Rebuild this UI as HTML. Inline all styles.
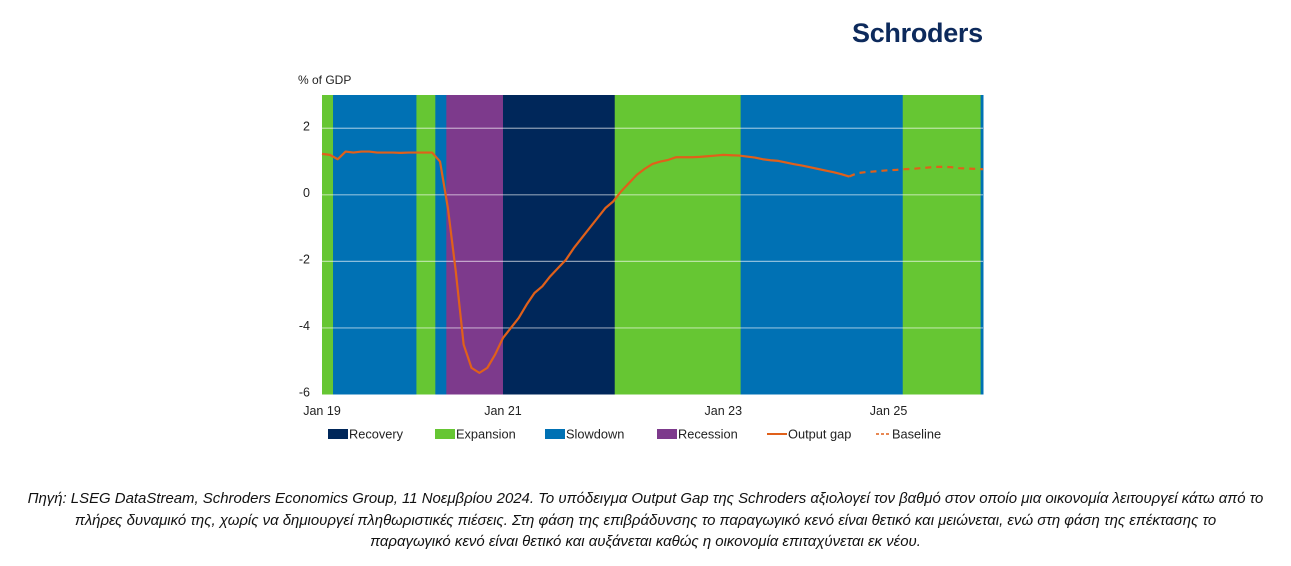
<!DOCTYPE html>
<html><head><meta charset="utf-8">
<style>
body{margin:0;width:1291px;height:566px;background:#fff;font-family:"Liberation Sans",sans-serif;overflow:hidden;position:relative}
.logo{position:absolute;left:852px;top:18px;font-size:27px;font-weight:bold;color:#0d2a5c;letter-spacing:-0.3px}
.cap{position:absolute;left:0;width:1291px;top:488px;text-align:center;font-style:italic;font-size:14.95px;line-height:21.5px;color:#111;white-space:nowrap}
</style></head><body>
<div class="logo">Schroders</div>
<svg id="chart" width="1291" height="470" style="position:absolute;left:0;top:0"></svg>
<div class="cap">Πηγή: LSEG DataStream, Schroders Economics Group, 11 Νοεμβρίου 2024. Το υπόδειγμα Output Gap της Schroders αξιολογεί τον βαθμό στον οποίο μια οικονομία λειτουργεί κάτω από το<br>πλήρες δυναμικό της, χωρίς να δημιουργεί πληθωριστικές πιέσεις. Στη φάση της επιβράδυνσης το παραγωγικό κενό είναι θετικό και μειώνεται, ενώ στη φάση της επέκτασης το<br>παραγωγικό κενό είναι θετικό και αυξάνεται καθώς η οικονομία επιταχύνεται εκ νέου.</div>
<script>
const phaseStarts=[0,1.4,12,14.4,15.8,23,37.2,53.2,73.8,83.7];
const phaseEnds=[1.4,12,14.4,15.8,23,37.2,53.2,73.8,83.7,84];
const phaseTypes=["Expansion","Slowdown","Expansion","Slowdown","Recession","Recovery","Expansion","Slowdown","Expansion","Slowdown"];
const outputGap=[1.23,1.2,1.07,1.3,1.27,1.3,1.3,1.27,1.27,1.27,1.26,1.27,1.27,1.27,1.27,1.0,-0.4,-2.3,-4.5,-5.2,-5.35,-5.2,-4.8,-4.3,-4.0,-3.7,-3.3,-2.95,-2.75,-2.45,-2.2,-1.95,-1.6,-1.3,-1.0,-0.7,-0.4,-0.2,0.1,0.35,0.6,0.78,0.93,1.0,1.05,1.13,1.13,1.13,1.14,1.16,1.18,1.2,1.19,1.18,1.15,1.12,1.07,1.04,1.02,0.97,0.92,0.88,0.83,0.78,0.73,0.68,0.62,0.55];
const baseline=[0.55,0.65,0.68,0.7,0.72,0.74,0.75,0.77,0.78,0.8,0.82,0.84,0.84,0.83,0.8,0.79,0.78,0.77];
const baselineStart=67;
const yTicks=[2,0,-2,-4,-6];
const xTickLabels=["Jan 19","Jan 21","Jan 23","Jan 25"];
const xTickMonths=[0,23,51,72];

const colors={Recovery:"#00275a",Expansion:"#66c633",Slowdown:"#0071b4",Recession:"#7d3a8c"};
const X0=322,X1=983,Y0=95,Y1=394.5,M0=0,M1=84,V0=-6,V1=3;
const xs=m=>X0+(m-M0)/(M1-M0)*(X1-X0);
const ys=v=>Y1-(v-V0)/(V1-V0)*(Y1-Y0);
const svg=document.getElementById('chart');
const NS="http://www.w3.org/2000/svg";
function mk(t,a,p){const e=document.createElementNS(NS,t);for(const k in a)e.setAttribute(k,a[k]);(p||svg).appendChild(e);return e;}

phaseTypes.forEach((t,i)=>{
  const r=mk('rect',{x:xs(phaseStarts[i]),y:Y0,width:xs(phaseEnds[i])-xs(phaseStarts[i])+0.5,height:Y1-Y0,fill:colors[t]});
  
  
});
yTicks.forEach(v=>{
  if(v>-6){const g=mk('line',{x1:X0,x2:X1,y1:ys(v),y2:ys(v),stroke:"rgba(255,255,255,0.55)","stroke-width":1.2});
  
  }
  const t=mk('text',{x:310,y:ys(v)+2,"text-anchor":"end","font-size":12.5,fill:"#222"});
  t.textContent=v;
  
  
});
const yl=mk('text',{x:298,y:84,"font-size":12,fill:"#222"});yl.textContent="% of GDP";


xTickLabels.forEach((l,i)=>{
  const t=mk('text',{x:xs(xTickMonths[i]),y:415,"text-anchor":"middle","font-size":12.5,fill:"#222"});
  t.textContent=l;
  
  
});
const og=mk('polyline',{points:outputGap.map((v,i)=>xs(i)+","+ys(v)).join(" "),fill:"none",stroke:"#e0601a","stroke-width":2.2,"stroke-linejoin":"round"});


const bl=mk('polyline',{points:baseline.map((v,i)=>xs(baselineStart+i)+","+ys(v)).join(" "),fill:"none",stroke:"#e0601a","stroke-width":2.2,"stroke-dasharray":"6,5"});



const leg=[["Recovery",328],["Expansion",435],["Slowdown",545],["Recession",657]];
leg.forEach(([n,x])=>{
  const g=mk('g',{});
  
  
  mk('rect',{x:x,y:429,width:20,height:10,fill:colors[n]},g);
  const t=mk('text',{x:x+21,y:438.5,"font-size":12.8,fill:"#222"},g);t.textContent=n;
});
const g1=mk('g',{});


mk('line',{x1:767,x2:787,y1:434,y2:434,stroke:"#e0601a","stroke-width":2},g1);
const t1=mk('text',{x:788,y:438.5,"font-size":12.8,fill:"#222"},g1);t1.textContent="Output gap";
const g2=mk('g',{});


mk('line',{x1:876,x2:891,y1:434,y2:434,stroke:"#e0601a","stroke-width":1.5,"stroke-dasharray":"3,2"},g2);
const t2=mk('text',{x:892,y:438.5,"font-size":12.8,fill:"#222"},g2);t2.textContent="Baseline";
</script>
</body></html>
